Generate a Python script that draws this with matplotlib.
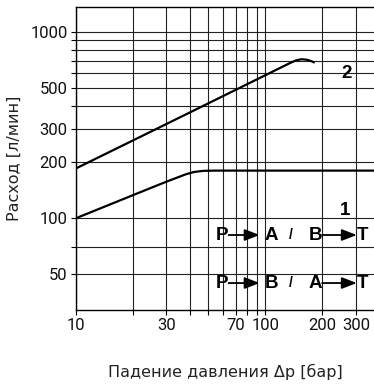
import numpy as np
import matplotlib.pyplot as plt

# Flow vs. pressure drop, log-log
dp_2 = [10, 30, 100, 135, 145, 155, 165, 175, 182]
q_2 = [185, 320, 585, 680, 702, 712, 708, 695, 682]

dp_1 = [10, 20, 30, 38, 42, 47, 55, 374]
q_1 = [100, 133, 157, 172, 177, 179.5, 180, 180]

x_ticks = [10, 20, 30, 40, 50, 60, 70, 80, 90, 100, 200, 300]
x_labels = ['10', '', '30', '', '', '', '70', '', '', '100', '200', '300']
y_ticks = [50, 70, 100, 200, 300, 400, 500, 600, 700, 800, 900, 1000]
y_labels = ['50', '', '100', '200', '300', '', '500', '', '', '', '', '1000']

fig = plt.figure(figsize=(3.74, 3.92), dpi=100)
ax = fig.add_axes([76 / 374, (392 - 310) / 392, 298 / 374, 303 / 392])

ax.set_xscale('log')
ax.set_yscale('log')
ax.set_xlim(10, 374)
ax.set_ylim(32.2, 1357)

ax.set_xticks(x_ticks)
ax.set_xticklabels(x_labels)
ax.set_yticks(y_ticks)
ax.set_yticklabels(y_labels)
ax.minorticks_off()

for lab in ax.get_xticklabels() + ax.get_yticklabels():
    lab.set_fontfamily('Roboto')
    lab.set_fontsize(12)
    lab.set_color('#111111')

ax.tick_params(direction='out', length=3.5, width=0.8, color='black', pad=2.5)
ax.grid(True, color='#222222', linewidth=0.8)
ax.set_axisbelow(True)
for side in ['left', 'bottom', 'top']:
    ax.spines[side].set_linewidth(1.0)
ax.spines['right'].set_visible(False)

ax.plot(dp_2, q_2, color='black', linewidth=1.6, solid_capstyle='butt')
ax.plot(dp_1, q_1, color='black', linewidth=1.6, solid_capstyle='butt')

ax.set_ylabel('Расход [л/мин]', family='DejaVu Sans', size=11.5, labelpad=6, color='#222222')
ax.set_xlabel('Падение давления Δр [бар]', family='DejaVu Sans', size=11.5, labelpad=22, color='#222222')

bold = dict(family='Liberation Sans', weight='bold', size=13.5,
            transform=ax.transAxes, ha='center', va='center')
ax.text(0.909, 0.782, '2', **bold)
ax.text(0.903, 0.330, '1', **bold)

rows = [(0.2475, 'A', 'B'), (0.089, 'B', 'A')]
for yy, first, second in rows:
    ax.text(0.489, yy, 'P', **bold)
    ax.text(0.655, yy, first, **bold)
    ax.text(0.721, yy, '/', **dict(bold, size=10))
    ax.text(0.803, yy, second, **bold)
    ax.text(0.962, yy, 'T', **bold)
    for x0, x1 in [(0.512, 0.616), (0.826, 0.942)]:
        ax.annotate('', xy=(x1, yy), xytext=(x0, yy), xycoords='axes fraction',
                    arrowprops=dict(arrowstyle='-|>,head_length=0.9,head_width=0.35',
                                    color='black', lw=1.3, shrinkA=0, shrinkB=0))

fig.savefig('out.png', dpi=100)
